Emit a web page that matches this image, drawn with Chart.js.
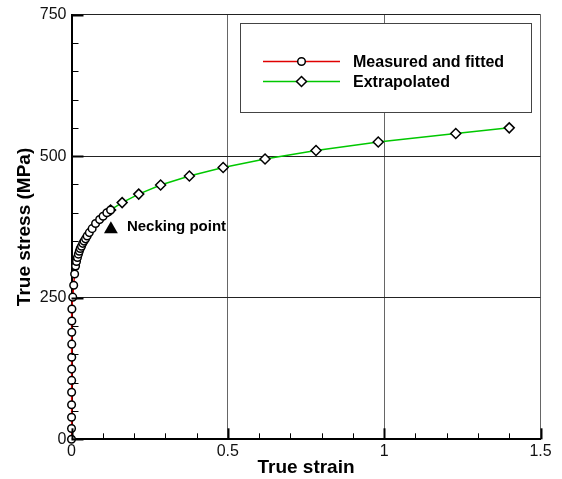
<!DOCTYPE html>
<html>
<head>
<meta charset="utf-8">
<script src="https://cdn.jsdelivr.net/npm/chart.js@4.4.0/dist/chart.umd.min.js"></script>
<style>
  html, body { margin: 0; padding: 0; background: #fff; }
  #wrap { position: relative; width: 562px; height: 479px; }
</style>
</head>
<body>
<div id="wrap"><canvas id="stressChart"></canvas></div>
<script>
// ===== data =====
const strainMeasured = [0, 0.0001, 0.0002, 0.0003, 0.0004, 0.0005, 0.0006, 0.0007, 0.0008, 0.0009,
  0.0010, 0.0012, 0.004, 0.007, 0.010, 0.013, 0.016, 0.019, 0.022, 0.025, 0.028, 0.032, 0.036,
  0.040, 0.045, 0.050, 0.057, 0.066, 0.077, 0.090, 0.101, 0.113, 0.125];
const stressMeasured = [0, 19, 39, 61, 83, 104, 124, 145, 168, 189,
  209, 230, 251, 272, 292, 306, 314, 321, 327, 332, 337, 341, 346,
  350, 354, 359, 365, 372, 381, 388, 394, 400, 405];

const strainExtrap = [0.125, 0.162, 0.215, 0.285, 0.377, 0.485, 0.619, 0.782, 0.981, 1.229, 1.40];
const stressExtrap = [405, 418, 433, 449, 465, 480, 495, 510, 525, 540, 550];

const neckingStrain = [0.126];
const neckingStress = [371];
const neckingLabel = 'Necking point';

const seriesNames = ['Measured and fitted', 'Extrapolated'];
const xMajor = [0, 0.5, 1, 1.5];
const yMajor = [0, 250, 500, 750];

const FONT = "'Liberation Sans', Arial, Helvetica, sans-serif";
const RED = '#e00000';
const GREEN = '#00c800';
const CIRCLE_R = 3.8;

function toPoints(xs, ys) {
  return xs.map((x, i) => ({ x, y: ys[i] }));
}

function isMajor(v, list) {
  return list.some(m => Math.abs(m - v) < 1e-6);
}

// inward tick marks on the bottom and left axes
const innerTicks = {
  id: 'innerTicks',
  afterDatasetsDraw(chart) {
    const { ctx, chartArea, scales } = chart;
    ctx.save();
    ctx.strokeStyle = '#000';
    scales.x.ticks.forEach(t => {
      const px = scales.x.getPixelForValue(t.value);
      const major = isMajor(t.value, xMajor);
      ctx.lineWidth = major ? 2 : 1;
      const len = major ? 11 : 6;
      ctx.beginPath();
      ctx.moveTo(Math.round(px) + 0.5, chartArea.bottom);
      ctx.lineTo(Math.round(px) + 0.5, chartArea.bottom - len);
      ctx.stroke();
    });
    scales.y.ticks.forEach(t => {
      const py = scales.y.getPixelForValue(t.value);
      const major = isMajor(t.value, yMajor);
      ctx.lineWidth = major ? 2 : 1;
      const len = major ? 12 : 7;
      ctx.beginPath();
      ctx.moveTo(chartArea.left, Math.round(py) + 0.5);
      ctx.lineTo(chartArea.left + len, Math.round(py) + 0.5);
      ctx.stroke();
    });
    ctx.restore();
  }
};

function drawCircle(ctx, x, y) {
  ctx.beginPath();
  ctx.arc(x, y, CIRCLE_R, 0, Math.PI * 2);
  ctx.fillStyle = '#fff';
  ctx.fill();
  ctx.lineWidth = 1.5;
  ctx.strokeStyle = '#000';
  ctx.stroke();
}

function drawDiamond(ctx, x, y) {
  const r = 5;
  ctx.beginPath();
  ctx.moveTo(x, y - r);
  ctx.lineTo(x + r, y);
  ctx.lineTo(x, y + r);
  ctx.lineTo(x - r, y);
  ctx.closePath();
  ctx.fillStyle = '#fff';
  ctx.fill();
  ctx.lineWidth = 1.5;
  ctx.strokeStyle = '#000';
  ctx.stroke();
}

// boxed legend + necking label
const extras = {
  id: 'extras',
  afterDraw(chart) {
    const { ctx, scales } = chart;
    ctx.save();

    // necking label next to the triangle
    const nx = scales.x.getPixelForValue(neckingStrain[0]);
    const ny = scales.y.getPixelForValue(neckingStress[0]);
    ctx.font = 'bold 15px ' + FONT;
    ctx.fillStyle = '#000';
    ctx.textBaseline = 'middle';
    ctx.textAlign = 'left';
    ctx.fillText(neckingLabel, nx + 16, ny - 2);

    // legend box
    ctx.fillStyle = '#fff';
    ctx.fillRect(240.5, 23.5, 291, 89);
    ctx.strokeStyle = '#444';
    ctx.lineWidth = 1;
    ctx.strokeRect(240.5, 23.5, 291, 89);

    const rows = [
      { y: 61.5, color: RED, draw: drawCircle },
      { y: 81.5, color: GREEN, draw: drawDiamond },
    ];
    rows.forEach((r, i) => {
      ctx.strokeStyle = r.color;
      ctx.lineWidth = 1.5;
      ctx.beginPath();
      ctx.moveTo(263, r.y);
      ctx.lineTo(340, r.y);
      ctx.stroke();
      r.draw(ctx, 301.5, r.y);
      ctx.font = 'bold 16px ' + FONT;
      ctx.fillStyle = '#000';
      ctx.textBaseline = 'middle';
      ctx.fillText(seriesNames[i], 353, r.y + 1);
    });
    ctx.restore();
  }
};

const canvas = document.getElementById('stressChart');

new Chart(canvas, {
  type: 'line',
  data: {
    datasets: [
      {
        label: seriesNames[0],
        data: toPoints(strainMeasured, stressMeasured),
        borderColor: RED,
        borderWidth: 1.5,
        pointStyle: 'circle',
        pointRadius: CIRCLE_R,
        pointBorderWidth: 1.5,
        pointBorderColor: '#000',
        pointBackgroundColor: '#fff',
        clip: false,
      },
      {
        label: seriesNames[1],
        data: toPoints(strainExtrap, stressExtrap),
        borderColor: GREEN,
        borderWidth: 1.5,
        pointStyle: 'rectRot',
        pointRadius: 5,
        pointBorderWidth: 1.5,
        pointBorderColor: '#000',
        pointBackgroundColor: '#fff',
        clip: false,
      },
      {
        label: 'Necking',
        data: toPoints(neckingStrain, neckingStress),
        showLine: false,
        pointStyle: 'triangle',
        pointRadius: 8,
        pointBorderWidth: 0,
        pointBackgroundColor: '#000',
        pointBorderColor: '#000',
      },
    ],
  },
  options: {
    responsive: true,
    maintainAspectRatio: false,
    animation: false,
    events: [],
    layout: { padding: { left: 0, right: 21.5, top: 11.8, bottom: 0 } },
    elements: { line: { tension: 0 } },
    plugins: {
      legend: { display: false },
      tooltip: { enabled: false },
    },
    scales: {
      x: {
        type: 'linear',
        min: 0,
        max: 1.5,
        afterFit: s => { s.height = 39.7; },
        ticks: {
          stepSize: 0.1,
          autoSkip: false,
          maxRotation: 0,
          padding: 3,
          color: '#111',
          font: { family: FONT, size: 16 },
          callback: v => isMajor(v, xMajor) ? String(Math.round(v * 10) / 10) : '',
        },
        grid: {
          drawTicks: false,
          color: c => (c.tick && isMajor(c.tick.value, xMajor)) ? '#666' : 'rgba(0,0,0,0)',
          lineWidth: 1,
        },
        border: { display: true, color: '#000', width: 2 },
        title: {
          display: true,
          text: 'True strain',
          color: '#000',
          font: { family: FONT, size: 19, weight: 'bold' },
          padding: { top: 0, bottom: 0 },
        },
      },
      y: {
        type: 'linear',
        min: 0,
        max: 750,
        afterFit: s => { s.width = 71.5; },
        ticks: {
          stepSize: 50,
          autoSkip: false,
          padding: 5,
          color: '#111',
          font: { family: FONT, size: 16 },
          callback: v => isMajor(v, yMajor) ? String(v) : '',
        },
        grid: {
          drawTicks: false,
          color: c => (c.tick && isMajor(c.tick.value, yMajor)) ? '#222' : 'rgba(0,0,0,0)',
          lineWidth: 1,
        },
        border: { display: true, color: '#000', width: 2 },
        title: {
          display: true,
          text: 'True stress (MPa)',
          color: '#000',
          font: { family: FONT, size: 19, weight: 'bold' },
          padding: { top: 13.5, bottom: 0 },
        },
      },
    },
  },
  plugins: [innerTicks, extras],
});
</script>
</body>
</html>
